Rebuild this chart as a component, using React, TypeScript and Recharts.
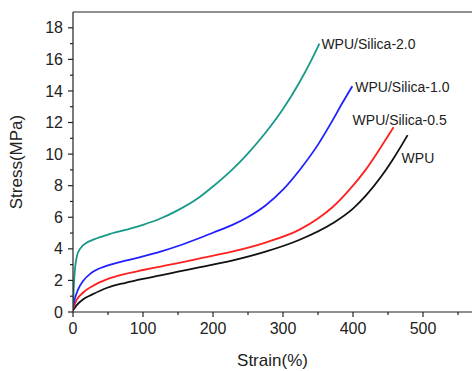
import React from 'react';
import { LineChart, Line, XAxis, YAxis, ReferenceLine, LabelList } from 'recharts';

const silica20 = [
  { strain: 0, stress: 0.3 }, { strain: 1, stress: 1.5 }, { strain: 3, stress: 2.8 }, { strain: 6, stress: 3.6 },
  { strain: 10, stress: 4.0 }, { strain: 20, stress: 4.4 }, { strain: 30, stress: 4.6 }, { strain: 50, stress: 4.9 },
  { strain: 75, stress: 5.2 }, { strain: 100, stress: 5.52 }, { strain: 125, stress: 5.92 }, { strain: 150, stress: 6.45 },
  { strain: 180, stress: 7.25 }, { strain: 200, stress: 7.95 }, { strain: 227, stress: 9.0 }, { strain: 250, stress: 10.05 },
  { strain: 275, stress: 11.35 }, { strain: 300, stress: 12.85 }, { strain: 323, stress: 14.5 }, { strain: 340, stress: 15.9 },
  { strain: 352, stress: 17.0 },
];

const silica10 = [
  { strain: 0, stress: 0.3 }, { strain: 3, stress: 0.9 }, { strain: 7, stress: 1.4 }, { strain: 15, stress: 2.0 },
  { strain: 27, stress: 2.5 }, { strain: 50, stress: 2.95 }, { strain: 75, stress: 3.25 }, { strain: 100, stress: 3.52 },
  { strain: 125, stress: 3.82 }, { strain: 150, stress: 4.18 }, { strain: 180, stress: 4.67 }, { strain: 200, stress: 5.02 },
  { strain: 227, stress: 5.5 }, { strain: 250, stress: 6.02 }, { strain: 275, stress: 6.75 }, { strain: 300, stress: 7.75 },
  { strain: 323, stress: 8.95 }, { strain: 350, stress: 10.6 }, { strain: 371, stress: 12.15 }, { strain: 385, stress: 13.25 },
  { strain: 399, stress: 14.3 },
];

const silica05 = [
  { strain: 0, stress: 0.2 }, { strain: 5, stress: 0.75 }, { strain: 15, stress: 1.25 }, { strain: 27, stress: 1.62 },
  { strain: 50, stress: 2.1 }, { strain: 75, stress: 2.42 }, { strain: 100, stress: 2.66 }, { strain: 125, stress: 2.88 },
  { strain: 150, stress: 3.1 }, { strain: 180, stress: 3.38 }, { strain: 227, stress: 3.82 }, { strain: 275, stress: 4.4 },
  { strain: 323, stress: 5.2 }, { strain: 350, stress: 5.92 }, { strain: 371, stress: 6.65 }, { strain: 395, stress: 7.75 },
  { strain: 418, stress: 9.0 }, { strain: 440, stress: 10.45 }, { strain: 458, stress: 11.7 },
];

const wpu = [
  { strain: 0, stress: 0.1 }, { strain: 5, stress: 0.42 }, { strain: 15, stress: 0.82 }, { strain: 27, stress: 1.1 },
  { strain: 50, stress: 1.55 }, { strain: 75, stress: 1.85 }, { strain: 100, stress: 2.1 }, { strain: 125, stress: 2.32 },
  { strain: 150, stress: 2.55 }, { strain: 180, stress: 2.82 }, { strain: 227, stress: 3.25 }, { strain: 275, stress: 3.82 },
  { strain: 323, stress: 4.56 }, { strain: 371, stress: 5.62 }, { strain: 400, stress: 6.55 }, { strain: 418, stress: 7.35 },
  { strain: 440, stress: 8.56 }, { strain: 456, stress: 9.6 }, { strain: 470, stress: 10.6 }, { strain: 478, stress: 11.2 },
];

const xTicks = [0, 50, 100, 150, 200, 250, 300, 350, 400, 450, 500, 550];
const yTicks = [0, 1, 2, 3, 4, 5, 6, 7, 8, 9, 10, 11, 12, 13, 14, 15, 16, 17, 18];

const FONT = '"Liberation Sans", Arial, sans-serif';
const INK = '#222';

const XTick = (props: any) => {
  const { x, y, payload } = props;
  const major = payload.value % 100 === 0;
  return (
    <g>
      <line x1={x} x2={x} y1={y} y2={y + (major ? 5 : 3)} stroke={INK} strokeWidth={1.2} />
      {major && (
        <text x={x} y={y + 11} dy="0.71em" textAnchor="middle" fontSize={16} fill={INK} fontFamily={FONT}>
          {payload.value}
        </text>
      )}
    </g>
  );
};

const YTick = (props: any) => {
  const { x, y, payload } = props;
  const major = payload.value % 2 === 0;
  return (
    <g>
      <line x1={x} x2={x - (major ? 5 : 3)} y1={y} y2={y} stroke={INK} strokeWidth={1.2} />
      {major && (
        <text x={x - 10} y={y} dy="0.35em" textAnchor="end" fontSize={16} fill={INK} fontFamily={FONT}>
          {payload.value}
        </text>
      )}
    </g>
  );
};

// label drawn only at the last point of a curve
const endLabel = (text: string, last: number, dx: number, dy: number) => (props: any) => {
  const { x, y, index } = props;
  if (index !== last) return null;
  return (
    <text x={x + dx} y={y + dy} dy="0.35em" fontSize={14} fill={INK} fontFamily={FONT}>
      {text}
    </text>
  );
};

export default function App() {
  return (
    <div style={{ position: 'absolute', left: 0, top: 0, background: '#fff' }}>
      <LineChart width={480} height={371} margin={{ top: 12, right: 8, bottom: 0, left: 0 }}>
        <XAxis
          dataKey="strain"
          type="number"
          domain={[0, 570]}
          ticks={xTicks}
          interval={0}
          tickSize={0}
          tickMargin={0}
          tick={<XTick />}
          axisLine={{ stroke: INK, strokeWidth: 1.2 }}
          height={59}
          allowDataOverflow
          label={{ value: 'Strain(%)', position: 'insideBottom', offset: 5, fontSize: 17, fill: INK, fontFamily: FONT }}
        />
        <YAxis
          type="number"
          domain={[0, 19]}
          ticks={yTicks}
          interval={0}
          tickSize={0}
          tickMargin={0}
          tick={<YTick />}
          axisLine={{ stroke: INK, strokeWidth: 1.2 }}
          width={73}
          allowDataOverflow
          label={{ value: 'Stress(MPa)', angle: -90, position: 'insideLeft', offset: 16, fontSize: 17, fill: INK, fontFamily: FONT, style: { textAnchor: 'middle' } }}
        />
        <ReferenceLine y={19} stroke={INK} strokeWidth={1.2} ifOverflow="visible" />
        <Line data={wpu} dataKey="stress" type="monotone" stroke="#111111" strokeWidth={1.8} dot={false} isAnimationActive={false}>
          <LabelList dataKey="stress" content={endLabel('WPU', wpu.length - 1, -6, 23)} />
        </Line>
        <Line data={silica05} dataKey="stress" type="monotone" stroke="#ff2020" strokeWidth={1.8} dot={false} isAnimationActive={false}>
          <LabelList dataKey="stress" content={endLabel('WPU/Silica-0.5', silica05.length - 1, -41, -7)} />
        </Line>
        <Line data={silica10} dataKey="stress" type="monotone" stroke="#2020ff" strokeWidth={1.8} dot={false} isAnimationActive={false}>
          <LabelList dataKey="stress" content={endLabel('WPU/Silica-1.0', silica10.length - 1, 3, 1)} />
        </Line>
        <Line data={silica20} dataKey="stress" type="monotone" stroke="#17998a" strokeWidth={1.8} dot={false} isAnimationActive={false}>
          <LabelList dataKey="stress" content={endLabel('WPU/Silica-2.0', silica20.length - 1, 2, 1)} />
        </Line>
      </LineChart>
    </div>
  );
}
